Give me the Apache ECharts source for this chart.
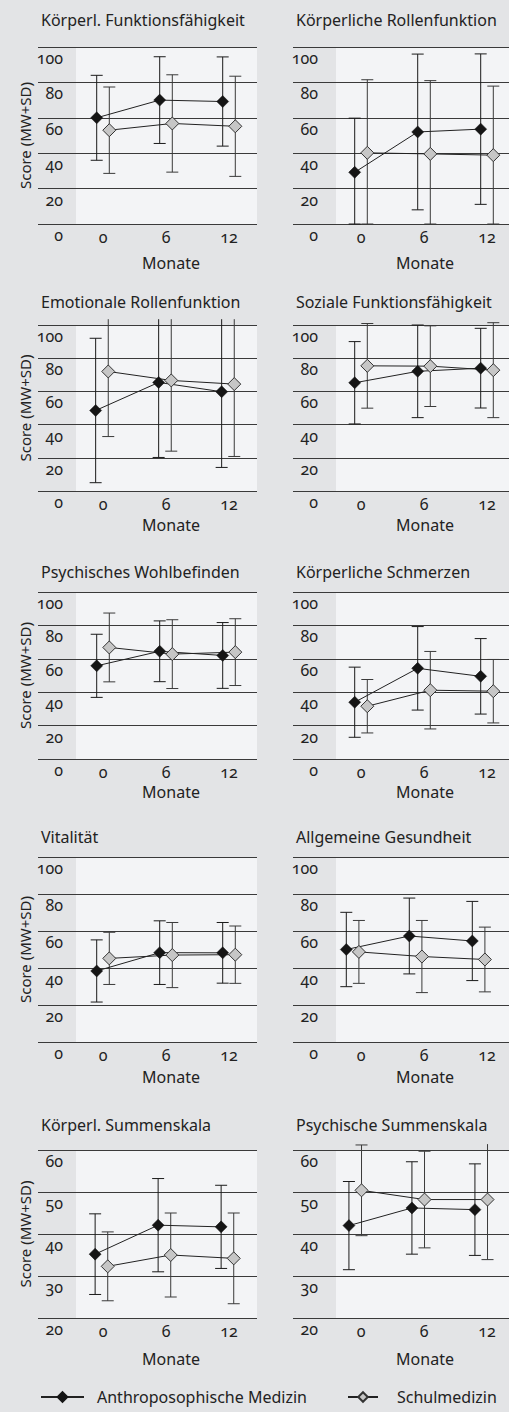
<!DOCTYPE html>
<html>
<head>
<meta charset="utf-8">
<script src="https://cdn.jsdelivr.net/npm/echarts@6/dist/echarts.min.js"></script>
<style>
  html, body { margin: 0; padding: 0; background: #e3e4e6; }
  #chart { width: 509px; height: 1412px; }
  /* Mediävalziffern wie im Original */
  #chart text, #chart tspan { font-variant-numeric: oldstyle-nums !important; font-feature-settings: "onum" 1 !important; }
</style>
</head>
<body>
<div id="chart"></div>
<script>
// Daten (MW und SD je Skala, Zeitpunkte 0 / 6 / 12 Monate)
const months = [0, 6, 12];
const titles = [
  "Körperl. Funktionsfähigkeit", "Körperliche Rollenfunktion",
  "Emotionale Rollenfunktion", "Soziale Funktionsfähigkeit",
  "Psychisches Wohlbefinden", "Körperliche Schmerzen",
  "Vitalität", "Allgemeine Gesundheit",
  "Körperl. Summenskala", "Psychische Summenskala"
];
const yMin = [0, 0, 0, 0, 0, 0, 0, 0, 20, 20];
const yMax = [100, 100, 100, 100, 100, 100, 100, 100, 60, 60];
const yStep = [20, 20, 20, 20, 20, 20, 20, 20, 10, 10];

// Anthroposophische Medizin
const amMean = [
  [60, 70, 69.2], [29.2, 52, 53.6],
  [48.5, 65.4, 59.8], [65.2, 72.1, 74],
  [55.8, 64.5, 62], [34, 54.3, 49.5],
  [38.4, 48.3, 48.2], [50, 57.3, 54.6],
  [35.2, 42.1, 41.7], [42, 46.2, 45.8]
];
const amSd = [
  [24, 24.5, 25.2], [30.6, 44, 42.5],
  [43.5, 45.2, 45.6], [24.8, 27.9, 24],
  [18.9, 18.2, 19.7], [21, 25, 22.6],
  [16.8, 17.2, 16.4], [20.1, 20.5, 21.4],
  [9.6, 11.1, 9.9], [10.5, 11, 10.9]
];
// Schulmedizin
const smMean = [
  [53, 56.8, 55.2], [40.2, 39.6, 38.9],
  [72, 66.6, 64.4], [75.4, 75.2, 72.8],
  [66.8, 62.8, 64], [31.6, 41.2, 40.6],
  [45.2, 47, 47.2], [48.7, 46.2, 44.6],
  [32.3, 35, 34.2], [50.4, 48.2, 48.2]
];
const smSd = [
  [24.4, 27.5, 28.3], [41.3, 41.4, 39],
  [39.2, 42.6, 43.6], [25.5, 24.3, 28.6],
  [20.6, 20.6, 20], [16, 23.2, 19],
  [14.1, 17.6, 15.5], [17, 19.5, 17.5],
  [8.2, 10, 10.8], [10.8, 11.5, 14.3]
];
const seriesNames = ["Anthroposophische Medizin", "Schulmedizin"];

// Layout
const rowTop = [47, 325, 592, 857, 1150];
const rowBottom = [224, 491, 759, 1042, 1318];
const titleY = [20, 302, 572, 837, 1125];
const monateY = [263, 525, 792, 1077, 1359];
const gridLeft = [38, 293];
const gridRight = [257, 509];
const lightLeft = [76, 336];
const month0 = [103, 361];
const pxPerMonth = 10.5;
const dodge = 0.6;
// kleine Verschiebung der Punkte in einzelnen Feldern (Monate)
const panelNudge = [0, 0, -0.1, 0, 0, 0, 0, -0.8, -0.15, -0.55];
const font = "Noto Sans";
const textColor = "#222";

function errorBars(color) {
  return function (params, api) {
    const x = api.value(0);
    const a = api.coord([x, api.value(1)]);
    const b = api.coord([x, api.value(2)]);
    const half = 6;
    const st = { stroke: color, lineWidth: 1 };
    const kids = [{ type: "line", shape: { x1: a[0], y1: a[1], x2: b[0], y2: b[1] }, style: st }];
    if (api.value(3)) kids.push({ type: "line", shape: { x1: a[0] - half, y1: a[1], x2: a[0] + half, y2: a[1] }, style: st });
    if (api.value(4)) kids.push({ type: "line", shape: { x1: b[0] - half, y1: b[1], x2: b[0] + half, y2: b[1] }, style: st });
    return { type: "group", children: kids };
  };
}

function barData(i, mean, sd, off) {
  const clipTop = yMax[i] + 0.035 * (yMax[i] - yMin[i]);
  return months.map((m, k) => {
    let lo = mean[i][k] - sd[i][k];
    let hi = mean[i][k] + sd[i][k];
    const capHi = hi <= clipTop ? 1 : 0;
    if (!capHi) hi = clipTop;
    if (lo < yMin[i]) lo = yMin[i];
    return [m + off, lo, hi, 1, capHi];
  });
}

const grids = [], xAxes = [], yAxes = [], series = [], graphics = [];

titles.forEach((t, i) => {
  const r = Math.floor(i / 2), c = i % 2;
  const top = rowTop[r], h = rowBottom[r] - rowTop[r];
  const offAm = panelNudge[i] - dodge, offSm = panelNudge[i] + dodge;
  grids.push({ left: gridLeft[c], top: top, width: gridRight[c] - gridLeft[c], height: h });
  xAxes.push({
    gridIndex: i, type: "value",
    min: (gridLeft[c] - month0[c]) / pxPerMonth,
    max: (gridRight[c] - month0[c]) / pxPerMonth,
    axisLine: { show: false }, axisTick: { show: false }, splitLine: { show: false },
    axisLabel: { customValues: months, margin: 5, fontFamily: font, fontSize: 16, color: textColor }
  });
  yAxes.push({
    gridIndex: i, type: "value", min: yMin[i], max: yMax[i], interval: yStep[i], z: 1,
    axisLine: { show: false }, axisTick: { show: false },
    splitLine: { lineStyle: { color: "#3a3a3a", width: 1.2 } },
    axisLabel: {
      inside: true, margin: 25, align: "right", verticalAlign: "top", padding: [3, 0, 0, 0],
      fontFamily: font, fontSize: 16, color: textColor
    }
  });
  // heller Plotbereich
  graphics.push({
    type: "rect", z: 0,
    shape: { x: lightLeft[c], y: top, width: gridRight[c] - lightLeft[c], height: h },
    style: { fill: "#f3f4f6" }
  });
  graphics.push({
    type: "text", x: gridLeft[c] + 3, y: titleY[r],
    style: { text: t, fontFamily: font, fontSize: 16, fill: textColor, textVerticalAlign: "middle" }
  });
  graphics.push({
    type: "text", x: c === 0 ? 171 : 425, y: monateY[r],
    style: { text: "Monate", fontFamily: font, fontSize: 16, fill: textColor, textAlign: "center", textVerticalAlign: "middle" }
  });
  if (c === 0) {
    graphics.push({
      type: "text", x: 25, y: (rowTop[r] + rowBottom[r]) / 2, rotation: Math.PI / 2,
      style: { text: "Score (MW+SD)", fontFamily: font, fontSize: 15, fill: textColor, textAlign: "center", textVerticalAlign: "middle" }
    });
  }

  series.push({
    type: "custom", xAxisIndex: i, yAxisIndex: i, z: 2, clip: false, silent: true,
    renderItem: errorBars("#1a1a1a"), encode: { x: 0, y: [1, 2] },
    data: barData(i, amMean, amSd, offAm)
  });
  series.push({
    type: "custom", xAxisIndex: i, yAxisIndex: i, z: 2, clip: false, silent: true,
    renderItem: errorBars("#3a3a3a"), encode: { x: 0, y: [1, 2] },
    data: barData(i, smMean, smSd, offSm)
  });
  series.push({
    name: seriesNames[0], type: "line", xAxisIndex: i, yAxisIndex: i, z: 3,
    symbol: "diamond", symbolSize: 12,
    itemStyle: { color: "#151515", borderColor: "#151515", borderWidth: 0.5 },
    lineStyle: { color: "#222", width: 1 },
    data: months.map((m, k) => [m + offAm, amMean[i][k]])
  });
  series.push({
    name: seriesNames[1], type: "line", xAxisIndex: i, yAxisIndex: i, z: 3,
    symbol: "diamond", symbolSize: 13,
    itemStyle: { color: "#c6c6c6", borderColor: "#333", borderWidth: 1 },
    lineStyle: { color: "#222", width: 1 },
    data: months.map((m, k) => [m + offSm, smMean[i][k]])
  });
});

const chart = echarts.init(document.getElementById("chart"), null, { renderer: "svg" });
chart.setOption({
  animation: false,
  backgroundColor: "#e3e4e6",
  grid: grids,
  xAxis: xAxes,
  yAxis: yAxes,
  series: series,
  graphic: { elements: graphics },
  legend: [
    {
      data: [seriesNames[0]], left: 40, top: 1389, itemWidth: 43, itemHeight: 12,
      selectedMode: false, padding: 0,
      textStyle: { fontFamily: font, fontSize: 16, color: textColor, padding: [0, 0, 0, 8] }
    },
    {
      data: [seriesNames[1]], left: 347, top: 1389, itemWidth: 30, itemHeight: 12,
      selectedMode: false, padding: 0,
      textStyle: { fontFamily: font, fontSize: 16, color: textColor, padding: [0, 0, 0, 14] }
    }
  ]
});
</script>
</body>
</html>
